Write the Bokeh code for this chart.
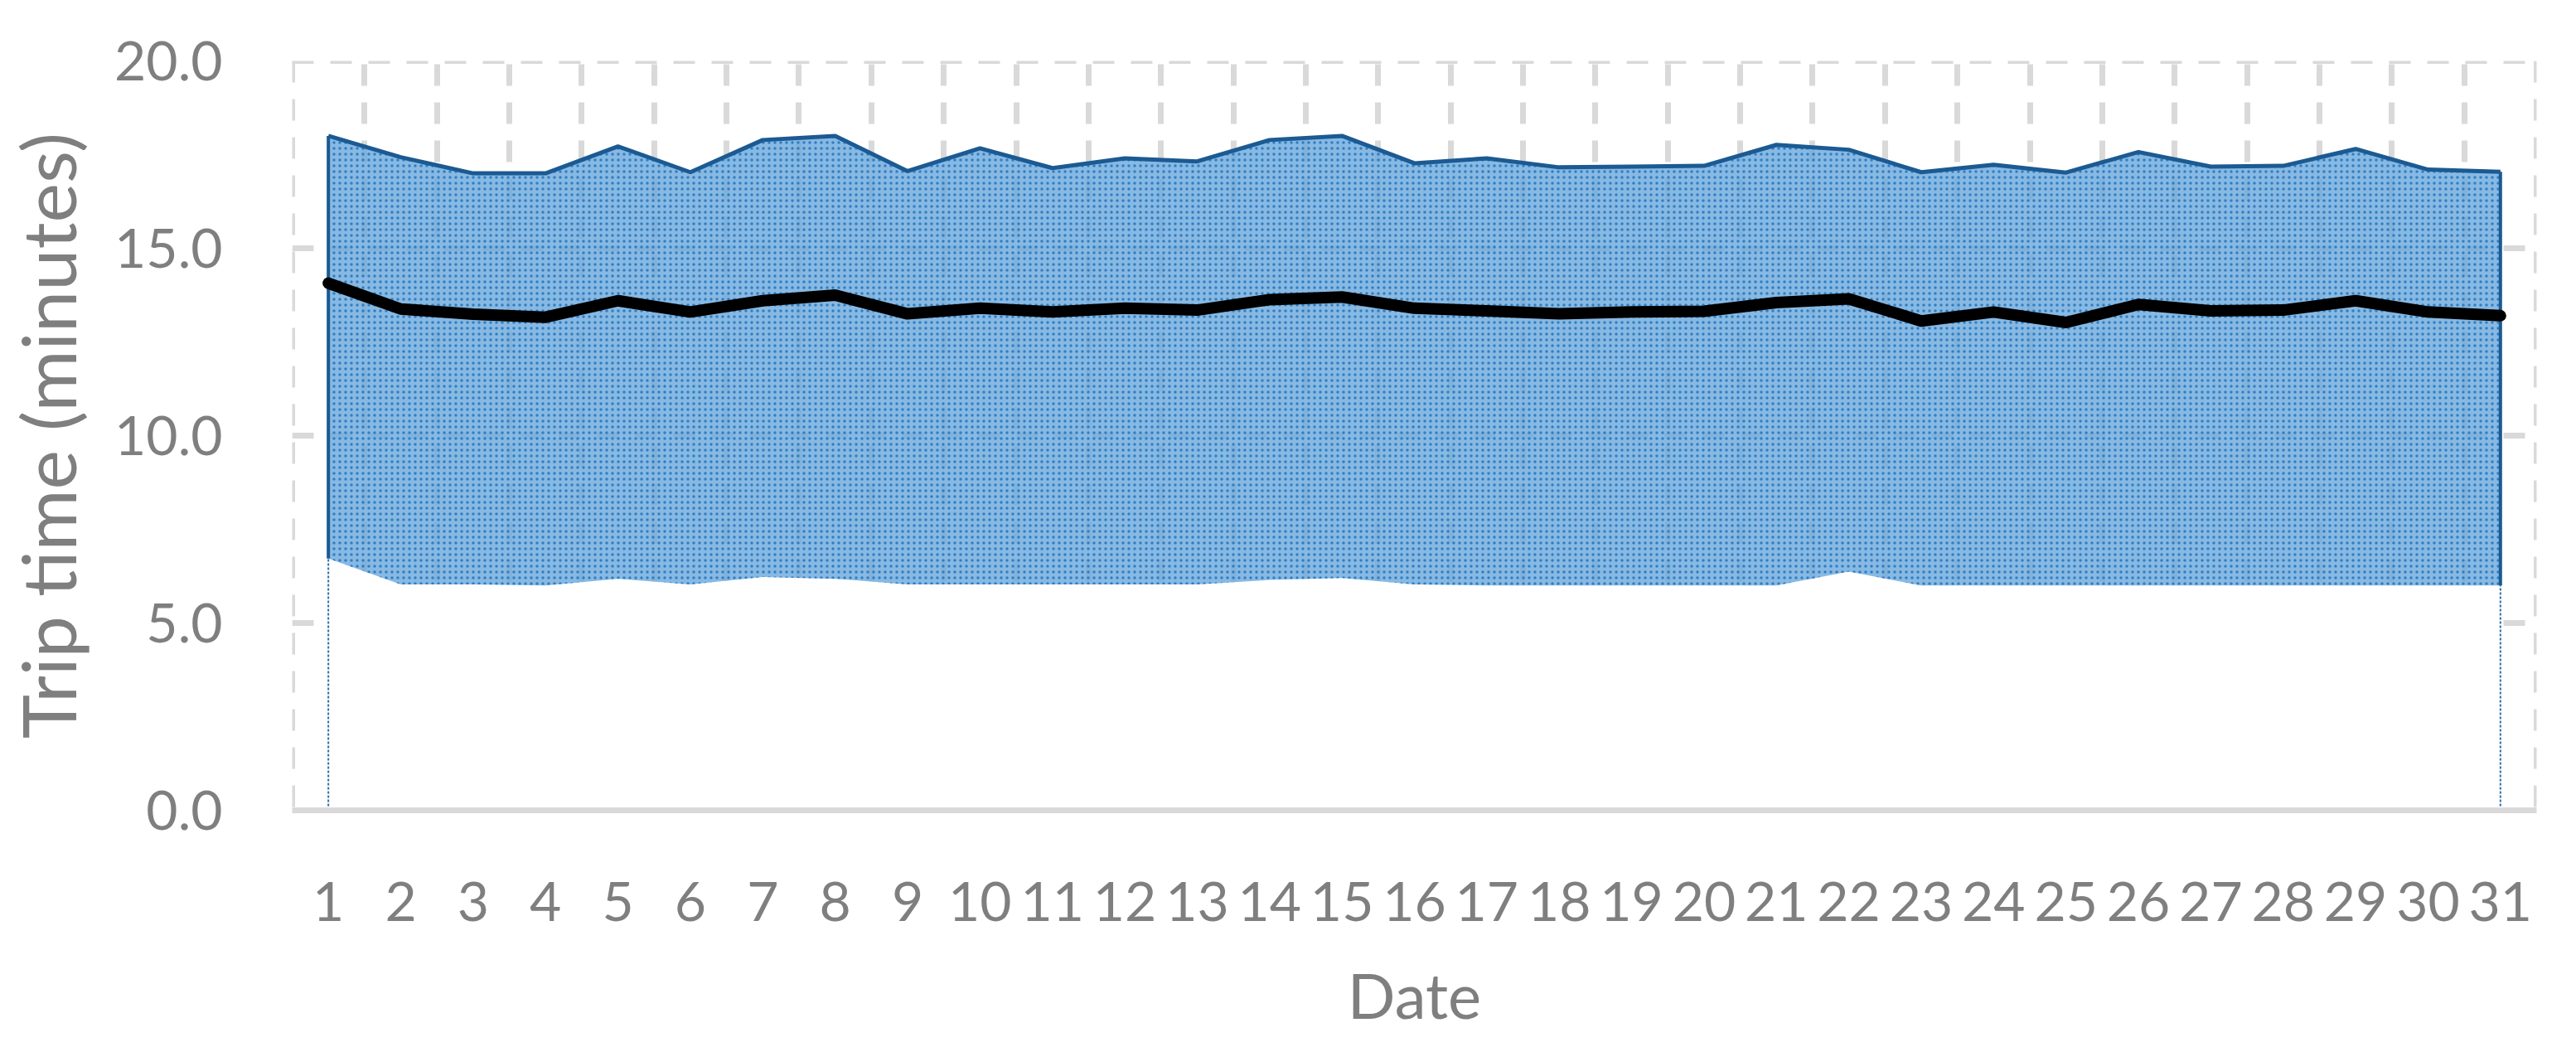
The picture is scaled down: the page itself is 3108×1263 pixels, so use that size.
from bokeh.plotting import figure
from bokeh.models import FixedTicker, PrintfTickFormatter, Range1d, ColumnDataSource, Span
from bokeh.embed import file_html
from bokeh.resources import INLINE

days = list(range(1, 32))
max_vals = [18.0, 17.43, 17.0, 17.0, 17.72, 17.03, 17.89, 18.0, 17.06, 17.67, 17.14,
            17.4, 17.32, 17.89, 18.0, 17.27, 17.4, 17.16, 17.18, 17.2, 17.76, 17.63,
            17.03, 17.23, 17.02, 17.57, 17.18, 17.2, 17.65, 17.1, 17.04]
mean_vals = [14.07, 13.38, 13.24, 13.16, 13.6, 13.3, 13.6, 13.75, 13.25, 13.4, 13.3,
             13.4, 13.35, 13.63, 13.7, 13.4, 13.33, 13.25, 13.3, 13.32, 13.55, 13.65,
             13.06, 13.3, 13.02, 13.5, 13.33, 13.35, 13.6, 13.3, 13.2]
min_vals = [6.72, 6.03, 6.03, 6.0, 6.18, 6.03, 6.23, 6.18, 6.03, 6.03, 6.03,
            6.03, 6.03, 6.15, 6.2, 6.03, 6.0, 6.0, 6.0, 6.0, 6.0, 6.37,
            6.0, 6.0, 6.0, 6.0, 6.0, 6.0, 6.0, 6.0, 6.0]
y_ticks = [0, 5, 10, 15, 20]

src = ColumnDataSource(dict(x=days, hi=max_vals, mid=mean_vals, lo=min_vals,
                            zero=[0] * len(days)))

FONT = "Lato"
GRAY = "#7F7F7F"
GRID = "#D9D9D9"
DASH = "26 20"

p = figure(width=3092, height=1247, output_backend="svg", toolbar_location=None,
           x_range=Range1d(0.5, 31.5), y_range=Range1d(0, 20),
           min_border_left=341, min_border_right=32, min_border_top=73, min_border_bottom=268)
p.outline_line_color = None
p.background_fill_color = "white"
p.border_fill_color = "white"

# grids
p.xgrid.ticker = FixedTicker(ticks=[i + 0.5 for i in range(1, 31)])
p.ygrid.ticker = FixedTicker(ticks=[5, 10, 15])
for g in (p.xgrid, p.ygrid):
    g.grid_line_color = GRID
    g.grid_line_width = 7
    g.grid_line_dash = DASH
for loc, dim in ((0.5, "height"), (31.5, "height"), (20, "width")):
    p.add_layout(Span(location=loc, dimension=dim, line_color=GRID, line_width=7,
                      line_dash=DASH, level="underlay"))

# axes
p.xaxis.ticker = FixedTicker(ticks=days)
p.yaxis.ticker = FixedTicker(ticks=y_ticks)
p.yaxis.formatter = PrintfTickFormatter(format="%.1f")
p.xaxis.axis_line_color = GRID
p.xaxis.axis_line_width = 7
p.yaxis.axis_line_color = None
for ax in (p.xaxis, p.yaxis):
    ax.major_tick_line_color = None
    ax.minor_tick_line_color = None
    ax.major_label_text_font = FONT
    ax.major_label_text_font_size = "66px"
    ax.major_label_text_color = GRAY
    ax.axis_label_text_font = FONT
    ax.axis_label_text_color = GRAY
    ax.axis_label_text_font_style = "normal"
p.xaxis.axis_label_text_font_size = "76px"
p.yaxis.axis_label_text_font_size = "90px"
p.xaxis.major_label_standoff = 80
p.yaxis.major_label_standoff = 78
p.xaxis.axis_label = "Date"
p.yaxis.axis_label = "Trip time (minutes)"
p.xaxis.axis_label_standoff = 40
p.yaxis.axis_label_standoff = 24

# bottom (min) series: opaque white, hides the grid
p.varea(x="x", y1="zero", y2="lo", source=src, fill_color="white", fill_alpha=1)
# band between min and max
p.varea(x="x", y1="lo", y2="hi", source=src, fill_color="#6AA8DC", fill_alpha=0.8,
        hatch_pattern="dot", hatch_color="#1E74BD", hatch_scale=7, hatch_weight=3,
        hatch_alpha=0.85)
p.line(x="x", y="hi", source=src, line_color="#1B5A92", line_width=5)
# side edges of the band and of the bottom series
p.segment(x0=[days[0], days[-1]], y0=[min_vals[0], min_vals[-1]],
          x1=[days[0], days[-1]], y1=[max_vals[0], max_vals[-1]],
          line_color="#1B5A92", line_width=4)
p.segment(x0=[days[0], days[-1]], y0=[0, 0],
          x1=[days[0], days[-1]], y1=[min_vals[0], min_vals[-1]],
          line_color="#2F6FA8", line_width=2, line_dash="3 2")

# mean line
p.line(x="x", y="mid", source=src, line_color="black", line_width=14,
       line_cap="round", line_join="round")

open("out.html", "w").write(file_html(p, INLINE))
